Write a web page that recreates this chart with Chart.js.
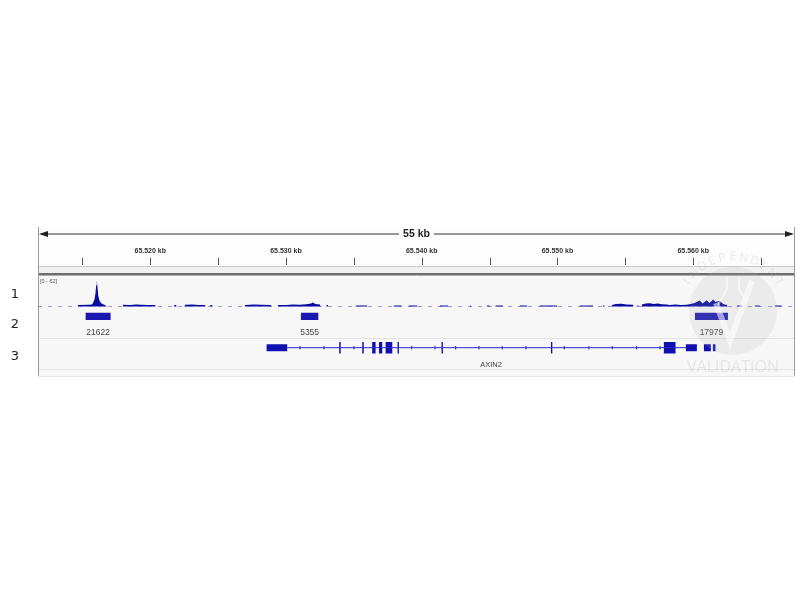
<!DOCTYPE html>
<html>
<head>
<meta charset="utf-8">
<script src="https://cdn.jsdelivr.net/npm/chart.js@4.4.0/dist/chart.umd.min.js"></script>
<style>
html, body { margin: 0; padding: 0; background: #fff; }
#wrap { width: 810px; height: 610px; }
</style>
</head>
<body>
<div id="wrap"><canvas id="igv" width="810" height="610"></canvas></div>
<script>
// visible window, in kb
const viewStart = 65511.73;
const viewEnd = 65567.5;
const rulerLabelTicks = [65520, 65530, 65540, 65550, 65560];
const rulerTicks = [65515, 65520, 65525, 65530, 65535, 65540, 65545, 65550, 65555, 65560, 65565];
const trackLabels = ['1', '2', '3'];

// track 1: coverage, data range [0 - 62]
const covMax = 62;
const covPos = [
  65511.73, 65514.62, 65514.67, 65515.40, 65515.70, 65515.78, 65515.89, 65515.96, 65516.02, 65516.06,
  65516.11, 65516.17, 65516.26, 65516.37, 65516.52, 65516.66, 65516.80,
  65517.95, 65517.99, 65518.50, 65518.95, 65519.39, 65519.83, 65520.35, 65520.40,
  65521.74, 65521.78, 65521.90, 65521.94,
  65522.52, 65522.56, 65523.10, 65523.60, 65524.03, 65524.07,
  65524.40, 65524.44, 65524.56, 65524.60,
  65526.94, 65526.98, 65527.60, 65528.20, 65528.89, 65528.93,
  65529.37, 65529.41, 65530.00, 65530.50, 65531.00, 65531.50, 65531.85, 65531.99, 65532.15, 65532.50, 65532.55,
  65532.95, 65532.98, 65533.08, 65533.12,
  65535.12, 65535.16, 65535.97, 65536.01,
  65537.92, 65537.96, 65538.50, 65538.54,
  65539.00, 65539.04, 65539.65, 65539.69,
  65541.30, 65541.34, 65541.93, 65541.97,
  65543.51, 65543.55, 65543.62, 65543.66,
  65544.76, 65544.80, 65545.00, 65545.04,
  65545.40, 65545.44, 65545.98, 65546.02,
  65547.19, 65547.23, 65547.75, 65547.79,
  65548.66, 65548.70, 65549.96, 65550.00,
  65551.61, 65551.65, 65552.61, 65552.65,
  65553.31, 65553.35, 65553.45, 65553.49,
  65553.97, 65554.01, 65554.30, 65554.70, 65555.10, 65555.56, 65555.60,
  65555.81, 65555.85, 65555.95, 65555.99,
  65556.18, 65556.22, 65556.50, 65556.80, 65557.10, 65557.40, 65557.70, 65558.06, 65558.28, 65558.70,
  65559.10, 65559.53, 65559.80, 65560.10, 65560.48, 65560.70, 65560.98, 65561.20, 65561.35, 65561.47,
  65561.65, 65561.96, 65562.20, 65562.48, 65562.55,
  65563.20, 65563.24, 65563.60, 65563.64,
  65564.50, 65564.54, 65564.90, 65564.94,
  65566.00, 65566.04, 65566.50, 65566.54,
  65567.50
];
const covVal = [
  0, 0, 3, 3.5, 4, 7, 14, 26, 43, 53,
  40, 22, 12, 7, 4.5, 3, 0,
  0, 3.5, 3, 4, 3.5, 3, 3, 0,
  0, 3, 3, 0,
  0, 3.5, 4, 3, 3, 0,
  0, 3, 3, 0,
  0, 3, 4, 3.5, 3, 0,
  0, 3, 3, 4, 3.5, 4.5, 6, 8, 5, 4, 0,
  0, 3, 3, 0,
  0, 2, 2, 0,
  0, 2, 2, 0,
  0, 2, 2, 0,
  0, 2, 2, 0,
  0, 2, 2, 0,
  0, 2, 2, 0,
  0, 2, 2, 0,
  0, 2, 2, 0,
  0, 2, 2, 0,
  0, 2, 2, 0,
  0, 2, 2, 0,
  0, 3, 5, 5.5, 4, 3.5, 0,
  0, 2, 2, 0,
  0, 4, 6, 6.5, 5, 6, 4.5, 4, 3, 4,
  3, 3.5, 5, 7, 12, 6, 12.5, 7, 11, 14,
  9, 11.5, 5, 3, 0,
  0, 2, 2, 0,
  0, 2, 2, 0,
  0, 2, 2, 0,
  0
];

// track 2: peak regions
const featureNames = ['21622', '5355', '17979'];
const featureStart = [65515.24, 65531.10, 65560.13];
const featureEnd = [65517.08, 65532.38, 65562.56];

// track 3: gene model
const geneName = 'AXIN2';
const intronStart = 65530.09;
const intronEnd = 65559.46;
const utrStart = [65528.57, 65559.46, 65560.79, 65561.45];
const utrEnd = [65530.09, 65560.27, 65561.30, 65561.64];
const cdsStart = [65533.92, 65535.62, 65536.35, 65536.85, 65537.34, 65538.22, 65541.46, 65549.52, 65557.84];
const cdsEnd = [65534.03, 65535.73, 65536.60, 65537.09, 65537.83, 65538.32, 65541.56, 65549.62, 65558.70];
const intronMarks = [65531.03, 65532.80, 65535.01, 65539.26, 65540.98, 65542.50, 65544.22, 65545.93,
  65547.68, 65550.50, 65552.32, 65554.04, 65555.83, 65557.55];

const blue = 'rgb(16, 16, 176)';
const featureRow = 2;
const geneRow = 3;

function segments(starts, ends, row) {
  const pts = [];
  starts.forEach((s, i) => {
    pts.push({ x: s, y: row }, { x: ends[i], y: row }, { x: ends[i], y: null });
  });
  return pts;
}

const igvBackground = {
  id: 'igvBackground',
  beforeDatasetsDraw(chart) {
    const { ctx, chartArea: a, scales: { x } } = chart;
    const t = a.top;
    ctx.save();
    ctx.fillStyle = '#fdfdfd';
    ctx.fillRect(a.left, t, a.width, 38);
    ctx.fillStyle = '#f1f1f1';
    ctx.fillRect(a.left, t + 38, a.width, 7);
    ctx.fillStyle = '#f7f7f7';
    ctx.fillRect(a.left, t + 48, a.width, a.bottom - t - 48);

    // ruler arrow
    const ay = t + 6;
    const span = Math.floor(viewEnd - viewStart) + ' kb';
    ctx.font = 'bold 10.5px "Liberation Sans", Arial, sans-serif';
    const tw = ctx.measureText(span).width;
    const mid = (a.left + a.right) / 2;
    ctx.strokeStyle = '#333';
    ctx.lineWidth = 1;
    ctx.beginPath();
    ctx.moveTo(a.left + 3, ay); ctx.lineTo(mid - tw / 2 - 4, ay);
    ctx.moveTo(mid + tw / 2 + 4, ay); ctx.lineTo(a.right - 3, ay);
    ctx.stroke();
    ctx.fillStyle = '#222';
    ctx.beginPath();
    ctx.moveTo(a.left + 1, ay); ctx.lineTo(a.left + 10, ay - 3); ctx.lineTo(a.left + 10, ay + 3); ctx.closePath();
    ctx.moveTo(a.right - 1, ay); ctx.lineTo(a.right - 10, ay - 3); ctx.lineTo(a.right - 10, ay + 3); ctx.closePath();
    ctx.fill();
    ctx.textAlign = 'center';
    ctx.textBaseline = 'middle';
    ctx.fillText(span, mid, ay);

    // tick labels and ticks
    ctx.font = 'bold 7px "Liberation Sans", Arial, sans-serif';
    ctx.fillStyle = '#333';
    rulerLabelTicks.forEach(v => {
      ctx.fillText((v / 1000).toFixed(3) + ' kb', x.getPixelForValue(v), t + 23);
    });
    ctx.strokeStyle = '#555';
    ctx.beginPath();
    rulerTicks.forEach(v => {
      const px = Math.round(x.getPixelForValue(v)) + 0.5;
      ctx.moveTo(px, t + 30); ctx.lineTo(px, t + 37);
    });
    ctx.stroke();

    // separators
    ctx.strokeStyle = '#c9c9c9';
    ctx.beginPath(); ctx.moveTo(a.left, t + 38.5); ctx.lineTo(a.right, t + 38.5); ctx.stroke();
    ctx.strokeStyle = '#6e6e6e';
    ctx.lineWidth = 2;
    ctx.beginPath(); ctx.moveTo(a.left, t + 46); ctx.lineTo(a.right, t + 46); ctx.stroke();
    ctx.strokeStyle = '#b0b0b0';
    ctx.lineWidth = 1;
    ctx.beginPath(); ctx.moveTo(a.left, t + 47.5); ctx.lineTo(a.right, t + 47.5); ctx.stroke();
    ctx.strokeStyle = '#e3e3e3';
    ctx.beginPath();
    ctx.moveTo(a.left, t + 110.5); ctx.lineTo(a.right, t + 110.5);
    ctx.moveTo(a.left, t + 141.5); ctx.lineTo(a.right, t + 141.5);
    ctx.stroke();

    // frame sides
    ctx.strokeStyle = '#9a9a9a';
    ctx.beginPath();
    ctx.moveTo(a.left + 0.5, t - 1); ctx.lineTo(a.left + 0.5, a.bottom);
    ctx.moveTo(a.right - 0.5, t - 1); ctx.lineTo(a.right - 0.5, a.bottom);
    ctx.stroke();
    ctx.strokeStyle = '#e6e6e6';
    ctx.beginPath(); ctx.moveTo(a.left, a.bottom - 0.5); ctx.lineTo(a.right, a.bottom - 0.5); ctx.stroke();
    ctx.restore();
  }
};

const igvLabels = {
  id: 'igvLabels',
  afterDatasetsDraw(chart) {
    const { ctx, chartArea: a, scales: { x, rows } } = chart;
    ctx.save();
    ctx.textAlign = 'left';
    ctx.textBaseline = 'middle';
    ctx.font = '5.5px "Liberation Sans", Arial, sans-serif';
    ctx.fillStyle = '#555';
    ctx.fillText('[0 - ' + covMax + ']', a.left + 2, a.top + 53);

    ctx.textAlign = 'center';
    ctx.font = '8.5px "Liberation Sans", Arial, sans-serif';
    ctx.fillStyle = '#444';
    const fy = rows.getPixelForValue(featureRow) + 16.5;
    featureNames.forEach((n, i) => {
      ctx.fillText(n, x.getPixelForValue((featureStart[i] + featureEnd[i]) / 2), fy);
    });
    ctx.font = '7.5px "Liberation Sans", Arial, sans-serif';
    ctx.fillText(geneName, x.getPixelForValue((utrStart[0] + utrEnd[utrEnd.length - 1]) / 2), rows.getPixelForValue(geneRow) + 17.5);

    // track numbers
    ctx.font = '13px "DejaVu Sans", sans-serif';
    ctx.fillStyle = '#222';
    const rowY = [a.top + 67, rows.getPixelForValue(featureRow) + 8, rows.getPixelForValue(geneRow) + 9];
    trackLabels.forEach((l, i) => ctx.fillText(l, 15, rowY[i]));

    // faint watermark
    const cx = 733, cy = a.top + 83, r = 44;
    ctx.fillStyle = 'rgba(175,175,175,0.16)';
    ctx.beginPath(); ctx.arc(cx, cy, r, 0, Math.PI * 2); ctx.fill();
    ctx.strokeStyle = 'rgba(255,255,255,0.55)';
    ctx.lineWidth = 6;
    ctx.beginPath(); ctx.moveTo(716, cy - 8); ctx.lineTo(730, cy + 30); ctx.lineTo(752, cy - 30); ctx.stroke();
    ctx.lineWidth = 2;
    ctx.beginPath();
    ctx.moveTo(727, cy - 34); ctx.lineTo(727, cy - 22); ctx.lineTo(718, cy - 6);
    ctx.moveTo(739, cy - 34); ctx.lineTo(739, cy - 22); ctx.lineTo(746, cy - 10);
    ctx.stroke();
    ctx.fillStyle = 'rgba(170,170,170,0.22)';
    ctx.font = '16px "Open Sans", sans-serif';
    ctx.fillText('VALIDATION', cx, a.top + 139);
    ctx.font = '12px "Open Sans", sans-serif';
    const word = 'INDEPENDENT';
    const a0 = -Math.PI * 0.82, a1 = -Math.PI * 0.18;
    for (let i = 0; i < word.length; i++) {
      const ang = a0 + (a1 - a0) * i / (word.length - 1);
      ctx.save();
      ctx.translate(cx + Math.cos(ang) * (r + 10), cy + Math.sin(ang) * (r + 10));
      ctx.rotate(ang + Math.PI / 2);
      ctx.fillText(word[i], 0, 0);
      ctx.restore();
    }
    ctx.restore();
  }
};

new Chart(document.getElementById('igv'), {
  type: 'line',
  data: {
    datasets: [
      {
        label: 'baseline',
        data: [{ x: viewStart, y: 0 }, { x: viewEnd, y: 0 }],
        yAxisID: 'cov',
        borderColor: 'rgba(90,90,220,0.6)',
        borderWidth: 1,
        borderDash: [4, 6],
        pointRadius: 0
      },
      {
        label: 'coverage',
        data: covPos.map((p, i) => ({ x: p, y: covVal[i] })),
        yAxisID: 'cov',
        borderWidth: 0,
        backgroundColor: 'rgb(10, 10, 160)',
        fill: 'origin',
        pointRadius: 0,
        tension: 0
      },
      {
        label: 'peaks',
        data: segments(featureStart, featureEnd, featureRow),
        yAxisID: 'rows',
        borderColor: 'rgb(26, 26, 178)',
        borderWidth: 7.3,
        borderCapStyle: 'butt',
        pointRadius: 0,
        spanGaps: false
      },
      {
        label: 'intron',
        data: [{ x: intronStart, y: geneRow }, { x: intronEnd, y: geneRow }],
        yAxisID: 'rows',
        borderColor: 'rgb(40, 40, 200)',
        borderWidth: 1,
        pointRadius: 0
      },
      {
        label: 'strand',
        data: intronMarks.map(p => ({ x: p, y: geneRow })),
        yAxisID: 'rows',
        showLine: false,
        pointStyle: 'line',
        rotation: 90,
        radius: 1.8,
        borderColor: 'rgb(40, 40, 200)',
        borderWidth: 1
      },
      {
        label: 'utr',
        data: segments(utrStart, utrEnd, geneRow),
        yAxisID: 'rows',
        borderColor: blue,
        borderWidth: 7,
        borderCapStyle: 'butt',
        pointRadius: 0,
        spanGaps: false
      },
      {
        label: 'cds',
        data: segments(cdsStart, cdsEnd, geneRow),
        yAxisID: 'rows',
        borderColor: blue,
        borderWidth: 11.5,
        borderCapStyle: 'butt',
        pointRadius: 0,
        spanGaps: false
      }
    ]
  },
  options: {
    responsive: false,
    animation: false,
    layout: { padding: { left: 38, right: 15, top: 228, bottom: 233 } },
    scales: {
      x: { type: 'linear', axis: 'x', min: viewStart, max: viewEnd, display: false },
      cov: { type: 'linear', axis: 'y', position: 'left', min: -143.3, max: 159.6, display: false },
      rows: { type: 'linear', axis: 'y', position: 'left', min: -0.824, max: 3.936, reverse: true, display: false }
    },
    plugins: {
      legend: { display: false },
      tooltip: { enabled: false }
    }
  },
  plugins: [igvBackground, igvLabels]
});
</script>
</body>
</html>
